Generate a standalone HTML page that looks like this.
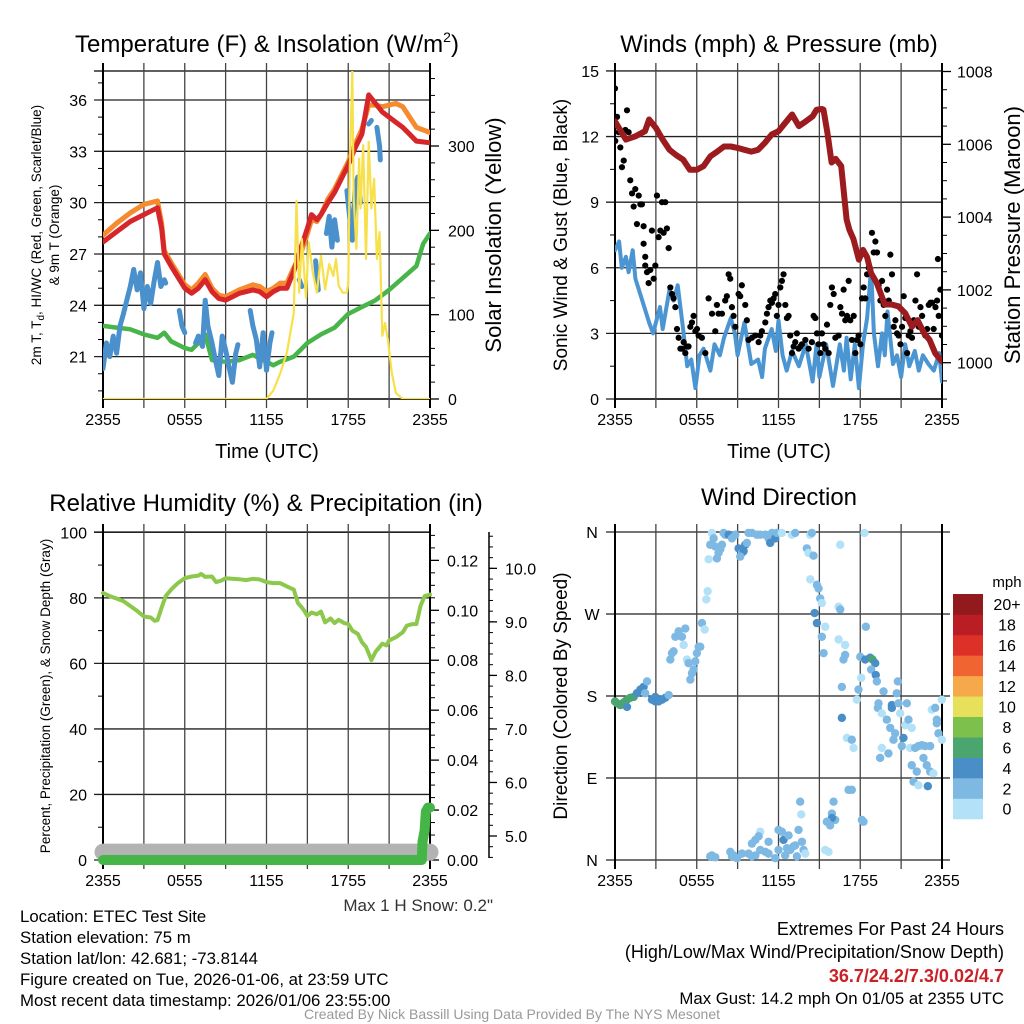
<!DOCTYPE html>
<html><head><meta charset="utf-8"><style>
html,body{margin:0;padding:0;background:#fff;}
svg{display:block;font-family:"Liberation Sans",Arial,sans-serif;}
</style></head><body>
<svg id="chart" width="1024" height="1024" viewBox="0 0 1024 1024"></svg>
<script>
// ---------- DATA ----------
// Panel 1: temperature
const tHours=[0,1,2,3,3.5,4,4.3,4.5,5,6,6.5,7,7.5,8,8.5,9,9.5,10,11,11.5,12,12.5,13,13.5,14,14.5,15,15.3,15.7,16,16.5,17,17.5,18,18.5,19,19.5,20,20.5,21,21.5,22,22.5,23,24];
const temp2m=[27.7,28.3,28.9,29.3,29.5,29.7,28.5,27.0,26.3,25.0,24.7,25.0,25.5,24.8,24.4,24.3,24.5,24.7,24.9,24.8,24.5,24.8,25.0,25.0,26.0,27.3,28.5,29.3,29.0,29.3,30.0,30.6,31.4,32.2,33.2,34.0,36.3,35.8,35.3,35.0,34.7,34.4,34.0,33.6,33.5];
const temp9m=[28.1,28.8,29.4,29.9,30.0,30.1,28.8,27.2,26.5,25.2,24.9,25.3,25.8,25.0,24.6,24.5,24.7,24.9,25.2,25.1,24.8,25.0,25.3,25.3,26.2,27.0,28.2,29.0,28.9,29.3,30.2,30.8,31.6,32.4,33.4,34.3,35.7,35.7,35.6,35.7,35.8,35.6,35.0,34.4,34.1];
const dewHours=[0,1,2,3,4,4.5,5,6,6.5,7,7.5,8,9,10,11,12,12.5,13,14,15,16,17,18,19,20,21,22,23,23.5,24];
const dewpoint=[22.8,22.7,22.6,22.3,22.1,22.4,21.9,21.5,21.4,21.8,22.3,20.8,20.7,20.8,21.1,20.7,20.5,20.7,21.0,21.8,22.3,22.7,23.5,23.9,24.3,24.9,25.6,26.3,27.6,28.2];
const wcHours=[0,0.25,0.5,0.75,1,1.25,1.5,1.75,2,2.25,2.5,2.75,3,3.25,3.5,3.75,4,4.25,4.5,4.6,4.61,5.6,5.8,6.0,6.01,6.8,7.0,7.3,7.5,7.7,8,8.25,8.5,8.75,9,9.25,9.5,9.75,9.9,9.91,10.8,11,11.25,11.5,11.75,12,12.25,12.4,12.41,14.4,14.6,14.61,15.6,15.8,15.81,16.4,16.6,16.8,17,17.2,17.21,17.9,18.1,18.3,18.5,18.7,18.9,18.91,19.5,19.7,19.71,20.1,20.3,20.35];
const windChill=[20.3,21.8,21.0,22.2,21.2,22.8,23.5,24.3,25.1,26.1,24.9,25.9,23.8,25.1,24.1,25.4,26.5,25.1,25.5,25.3,null,23.7,22.8,22.4,null,21.8,22.2,21.6,24.3,22.8,21.8,20.8,19.9,22.2,21.4,20.4,19.5,21.2,21.7,null,23.7,22.8,22.0,20.4,22.4,20.2,21.8,22.4,null,25.5,25.1,null,26.6,24.9,null,28.2,29.2,27.4,29.0,27.8,null,30.7,29.2,27.8,30.9,31.5,30.0,null,34.6,34.8,null,34.4,33.3,32.5];
const solarHours=[0,12,12.5,13,13.5,14,14.2,14.4,14.6,14.9,15.1,15.4,15.7,16,16.3,16.6,16.9,17.1,17.3,17.6,17.9,18,18.1,18.3,18.4,18.6,18.8,18.9,19.1,19.3,19.5,19.7,19.9,20.1,20.3,20.5,20.7,20.9,21.2,21.5,22,24];
const solar=[0,0,10,30,55,102,235,126,190,120,186,150,126,170,130,160,146,166,134,126,126,138,265,390,237,178,285,226,301,166,305,226,261,166,198,75,90,71,31,7,0,0];
const p1LeftTicks=[21,24,27,30,33,36];
const p1RightTicks=[0,100,200,300];
const timeTickLabels=["2355","0555","1155","1755","2355"];

// Panel 2: winds & pressure
const windHours=[0,0.3,0.5,0.8,1,1.3,1.5,2,2.5,2.8,3,3.3,3.5,4,4.3,4.6,5,5.3,5.6,5.9,6.2,6.5,7,7.3,7.7,8,8.5,8.8,9,9.5,10,10.5,10.8,11,11.5,11.8,12,12.3,12.6,13,13.5,14,14.5,14.8,15,15.5,16,16.5,16.8,17,17.3,17.6,17.9,18.2,18.5,18.8,19,19.3,19.6,19.8,20,20.4,20.7,21,21.3,21.6,22,22.3,22.6,23,23.4,23.8,24];
const windSpeed=[6.8,7.2,6.0,6.5,5.8,6.8,5.5,4.5,3.5,3.0,3.5,4.2,3.2,5.0,4.5,5.2,3.2,1.5,1.8,0.5,2.0,2.3,1.3,2.5,2.0,2.8,3.7,3.0,2.0,3.5,1.6,1.8,1.0,2.3,3.2,2.2,3.6,2.0,1.3,2.2,1.5,2.5,0.8,2.5,1.0,2.5,0.6,2.5,1.3,2.8,0.9,2.5,0.5,2.5,3.7,6.0,3.0,1.5,3.0,2.0,4.0,1.6,2.0,1.0,2.5,1.5,2.2,1.3,2.0,1.6,1.3,2.1,0.8];
const gustHours=[0,0.02,0.15,0.27,0.39,0.51,0.64,0.76,0.88,1.0,1.12,1.25,1.37,1.49,1.61,1.74,1.86,1.98,2.1,2.1,2.22,2.35,2.47,2.22,2.59,2.71,2.84,2.96,3.08,3.2,3.33,3.45,3.57,3.69,3.81,3.94,4.06,4.18,4.3,4.43,4.55,4.67,4.8,4.92,5.04,5.16,5.28,5.4,5.53,5.65,5.77,5.9,6.02,6.14,6.38,6.63,6.87,7.12,7.36,7.48,7.6,7.85,8.09,8.21,8.34,8.46,8.58,8.7,8.83,9.07,9.19,9.31,9.56,9.68,9.8,10.05,10.29,10.54,10.66,10.78,11.03,11.15,11.27,11.4,11.52,11.64,11.76,11.88,12.0,12.13,12.25,12.37,12.5,12.62,12.74,12.86,12.99,13.11,13.23,13.35,13.48,13.6,13.72,13.97,14.21,14.45,14.58,14.7,14.82,14.94,15.07,15.19,15.31,15.43,15.56,15.68,15.8,15.92,16.05,16.17,16.41,16.54,16.66,16.78,16.9,17.03,17.15,17.27,17.39,17.52,17.64,17.76,17.88,18.01,18.13,18.25,18.37,18.5,18.62,18.86,18.99,19.11,19.23,19.35,19.48,19.6,19.72,19.84,19.97,20.09,20.21,20.33,20.46,20.58,20.7,20.82,20.95,21.07,21.19,21.31,21.44,21.56,21.68,21.8,21.93,22.05,22.17,22.3,22.42,22.54,22.78,22.91,23.03,23.15,23.27,23.39,23.52,23.64,23.7,23.76,23.88,24.0];
const gustSpeed=[14.2,11.8,12.9,12.2,11.5,10.6,10.9,12.3,13.2,12.2,10.0,9.4,8.8,9.6,8.0,9.3,8.9,8.9,7.9,7.1,6.5,5.8,5.3,6.1,5.9,7.7,5.5,6.1,9.3,7.4,7.7,9.0,7.6,9.0,7.8,6.9,5.1,4.8,4.6,4.2,3.2,2.8,2.3,2.3,2.6,2.1,2.4,2.4,3.3,3.5,3.8,3.1,3.2,2.9,2.8,2.1,4.6,3.9,3.1,4.3,3.9,3.9,4.5,4.7,5.7,5.5,4.2,3.8,3.3,4.8,4.7,5.2,4.3,3.6,2.7,2.8,2.9,2.6,2.9,3.1,3.5,3.9,4.2,4.5,4.4,4.6,4.8,3.8,4.3,5.1,5.4,5.7,4.3,3.7,3.8,2.9,2.1,2.4,2.6,3.0,2.3,2.4,2.5,2.7,2.3,2.6,3.8,3.7,3.0,2.5,2.1,3.0,2.5,2.3,3.4,2.1,4.3,5.1,4.8,2.8,2.9,4.2,3.9,5.0,3.6,3.8,5.4,3.6,2.7,3.8,2.1,2.7,2.9,2.5,4.6,5.1,4.6,5.7,6.0,7.6,6.7,7.2,6.7,5.2,4.5,5.4,4.3,3.8,5.0,4.5,6.6,5.7,3.3,3.6,3.0,2.9,2.5,3.3,4.7,3.7,2.1,2.9,3.1,2.8,3.6,4.5,5.7,3.3,4.2,3.8,2.9,3.2,4.3,4.4,4.4,3.2,4.2,4.5,6.4,3.8,5.0,2.9];
const presHours=[0,0.8,1.5,2.2,2.5,3,3.5,4,4.5,5,5.5,6,6.5,7,7.5,8,8.5,9,9.5,10,10.5,11,11.5,12,12.5,13,13.5,14,14.5,14.8,15.2,15.3,15.6,15.9,16.2,16.6,17,17.2,17.5,17.9,18.2,18.5,18.8,19.2,19.5,19.8,20.3,20.8,21.3,21.8,22.2,22.7,23.1,23.5,24];
const pressure=[1006.63,1006.13,1006.22,1006.36,1006.68,1006.45,1006.13,1005.85,1005.7,1005.58,1005.3,1005.3,1005.4,1005.67,1005.8,1005.94,1005.94,1005.9,1005.85,1005.8,1005.85,1006.04,1006.27,1006.36,1006.59,1006.82,1006.5,1006.63,1006.77,1006.95,1006.97,1006.95,1006.3,1005.5,1005.6,1005.4,1003.93,1003.65,1003.4,1002.83,1003.1,1002.9,1002.46,1002.2,1001.9,1001.6,1001.6,1001.55,1001.36,1000.99,1001.17,1000.8,1000.62,1000.26,1000.03];
const p2LeftTicks=[0,3,6,9,12,15];
const p2RightTicks=[1000,1002,1004,1006,1008];

// Panel 3: RH, precip, snow
const rhHours=[0,0.5,1,1.5,2,2.5,3,3.5,3.8,4,4.3,4.6,5,5.5,6,6.5,7,7.2,7.5,8,8.3,8.7,9,9.5,10,10.5,11,11.5,12,12.5,13,13.5,14,14.3,14.7,15,15.3,15.7,16,16.3,16.7,17,17.3,17.7,18,18.3,18.7,19,19.3,19.5,19.7,20,20.5,20.8,21,21.5,22,22.3,22.7,23,23.3,23.6,24];
const relHum=[81.5,80.5,79.8,79,77.5,76,74.3,74,73,73.2,77,80.5,82.5,84.5,86,86.5,86.8,87.3,86.4,86.5,84.8,85.3,86,85.8,85.7,85.4,85.8,85.6,84.8,84.5,84.5,83.5,82.5,78.5,76.5,74.5,75.5,75,75.8,72.5,73.7,72.3,73.3,72.3,72,70,69,66.5,65,63,61,63.5,66,65.5,67,68,69.5,71.5,72,72,77.5,80.5,81];
const precipHours=[0,23.4,23.45,23.6,23.7,23.85,24];
const precip=[0,0,0.0073,0.0118,0.0195,0.021,0.021];
const snowHours=[0,24];
const snowDepth=[4.7,4.7];
const p3LeftTicks=[0,20,40,60,80,100];
const p3PrecipTicks=[0,0.02,0.04,0.06,0.08,0.10,0.12];
const p3SnowTicks=[5,6,7,8,9,10];

// Panel 4: wind direction
const dirHours=[0,0.15,0.39,0.64,0.88,1.12,1.37,0.88,1.61,1.86,2.1,2.35,2.22,2.71,2.96,3.2,3.45,3.69,3.94,2.96,4.06,4.18,4.3,4.43,4.67,4.91,5.04,5.16,5.28,5.4,5.53,5.65,5.77,5.89,6.01,6.14,6.26,6.38,6.58,6.7,6.8,6.87,6.99,7.11,7.24,7.36,7.48,7.6,7.73,7.85,7.97,8.09,8.34,8.58,8.83,9.07,9.32,9.44,9.56,9.68,9.19,9.8,10.05,10.42,10.66,11.03,11.27,11.39,11.52,11.76,11.88,12.25,12.98,13.23,14.08,14.2,14.33,14.45,14.57,14.33,14.82,14.94,15.06,15.18,14.65,14.82,15.43,15.18,15.31,16.41,16.53,16.53,18.31,16.41,16.89,16.89,16.77,18.0,18.36,18.73,18.9,19.1,18.8,19.14,19.22,18.41,18.07,17.87,17.75,16.65,16.65,17.02,17.38,17.51,19.34,19.29,19.58,19.71,19.95,20.2,20.32,20.32,20.44,20.56,20.68,20.76,20.81,20.93,21.05,21.17,21.3,21.42,21.54,21.78,21.66,19.46,19.58,20.07,22.03,22.27,22.52,22.76,23.13,22.64,22.88,23.13,23.37,21.78,22.15,21.91,22.27,22.96,23.25,23.5,23.62,23.74,23.99,23.99,23.62,17.14,17.38,16.04,15.92,16.16,15.92,15.55,15.79,15.43,15.67,18.12,18.24,13.59,13.67,13.47,13.72,13.84,13.96,12.0,12.25,12.37,12.74,12.62,12.86,13.1,13.23,12.49,11.76,12.0,10.66,10.54,10.3,10.05,11.27,11.03,10.66,10.3,10.05,9.8,9.32,8.95,8.71,8.46,8.58,7.11,7.36,6.99,13.35,11.27];
const dirDegrees=[174,172,170,173,176,178,179,168,183,187,190,196,183,176,174,174,176,178,181,179,220,227,229,245,251,245,236,254,220,216,198,205,209,218,227,234,234,260,253,286,295,330,346,359,353,344,331,337,341,346,359,357,357,353,357,342,337,339,346,348,333,359,359,357,357,357,353,348,359,353,359,359,357,359,342,337,357,359,334,308,302,298,287,282,271,260,256,245,227,278,275,346,359,242,236,225,220,223,220,222,220,216,209,203,196,256,200,187,176,190,156,134,132,123,172,167,161,185,154,145,170,167,132,139,183,196,172,161,125,134,148,172,154,145,123,112,123,117,123,125,126,125,125,112,104,97,95,104,97,86,82,81,165,167,154,139,132,176,150,77,77,64,51,44,46,42,38,11,9,44,42,64,50,33,20,11,7,33,31,22,27,13,11,15,16,5,2,11,31,26,22,18,20,9,11,5,4,7,7,2,5,9,4,5,3,4,4,7];
const dirSpeed=[7,7,7,7,7,7,7,5,5,5,5,3,3,5,5,5,5,5,3,5,3,3,3,3,3,3,1,3,1,3,3,3,3,3,3,3,3,3,1,1,1,1,3,1,3,3,3,3,3,3,3,3,5,3,3,5,3,5,5,3,3,3,3,3,3,3,3,5,3,5,3,1,1,3,3,1,1,3,3,1,3,3,3,1,5,5,1,3,3,1,3,1,1,1,1,3,3,3,5,5,7,5,3,5,3,3,1,3,1,3,5,1,3,1,3,3,1,3,3,3,5,5,3,3,3,3,3,1,3,5,1,3,3,1,1,3,1,3,3,3,3,3,3,3,3,3,1,3,3,3,1,5,1,3,3,3,1,1,3,3,3,3,3,3,5,3,3,1,1,3,3,3,1,3,3,3,1,3,3,5,3,3,3,3,3,3,3,3,1,3,3,3,3,3,3,3,3,3,3,3,3,3,3,3,3,3,3,3,3];
const dirTickLabels=["N","E","S","W","N"];
const speedBinLabels=["0","2","4","6","8","10","12","14","16","18","20+"];
const speedBinColors=["#b3e1f7","#7eb9e4","#4a8ec7","#4aa56f","#7dc04b","#e6e05a","#f6a94a","#ef6431","#dd3128","#ba1d24","#931a1c"];

// ---------- DRAWING ----------
const NS='http://www.w3.org/2000/svg';
const svg=document.getElementById('chart');
function mk(tag,attrs,parent){const e=document.createElementNS(NS,tag);for(const k in attrs)e.setAttribute(k,attrs[k]);(parent||svg).appendChild(e);return e;}
function txt(x,y,s,size,anchor,name,parent){
  const t=mk('text',{x:x,y:y,'font-size':size,'text-anchor':anchor,fill:'#000'},parent);
  t.textContent=s;
  
  
  return t;}
function pathD(hs,vs,xf,yf){let d='',pen=false;for(let i=0;i<hs.length;i++){if(vs[i]==null){pen=false;continue;}d+=(pen?'L':'M')+xf(hs[i]).toFixed(1)+' '+yf(vs[i]).toFixed(1);pen=true;}return d;}
function seg(x1,y1,x2,y2,w,c,parent){return mk('line',{x1:x1,y1:y1,x2:x2,y2:y2,stroke:c||'#000','stroke-width':w||1},parent);}

function makeClip(id,p){const cp=mk('clipPath',{id:id});mk('rect',{x:p.x0,y:p.y0,width:p.x1-p.x0,height:p.y1-p.y0},cp);}

function drawTimeGrid(p,g,name){
  for(let h=0;h<=24;h+=3){const x=p.x0+h/24*(p.x1-p.x0);
    const l=seg(x,p.y0-8,x,p.y1+9,(h==0||h==24)?2:1.3,(h==0||h==24)?'#000':'#444',g);
    
    }
  timeTickLabels.forEach((s,i)=>{txt(p.x0+i*6/24*(p.x1-p.x0),p.y1+26,s,16,'middle','x-tick-label',g);});
}

// Panel 1
(function(){
  const p={x0:103,x1:430,y0:71,y1:399};
  const g=mk('g',{});
  
  
  const xs=h=>p.x0+h/24*(p.x1-p.x0);
  const yL=v=>100+(36-v)*17.11;
  const yR=v=>399-v*0.8433;
  makeClip('c1',p);
  seg(p.x0-9,p.y0,p.x1,p.y0,1.3,'#000',g);
  p1LeftTicks.forEach(v=>{seg(p.x0-9,yL(v),p.x1,yL(v),1.3,'#222',g);txt(p.x0-16,yL(v)+6,String(v),16,'end','y-tick-label',g);});
  for(let v=19;v<=37;v++){if(v%3)seg(p.x0-5,yL(v),p.x0,yL(v),1,'#000',g);}
  seg(p.x0,p.y1,p.x1,p.y1,1.5,'#000',g);
  p1RightTicks.forEach(v=>{seg(p.x1,yR(v),p.x1+9,yR(v),1.3,'#000',g);txt(p.x1+18,yR(v)+6,String(v),16,'start','right-tick-label',g);});
  for(let v=20;v<=380;v+=20){if(v%100)seg(p.x1,yR(v),p.x1+5,yR(v),1,'#000',g);}
  drawTimeGrid(p,g,'temp');
  const dg=mk('g',{'clip-path':'url(#c1)',fill:'none','stroke-linejoin':'round','stroke-linecap':'round'},g);
  const s1=mk('path',{d:pathD(tHours,temp9m,xs,yL),stroke:'#f58a2e','stroke-width':5},dg);
  
  
  const s2=mk('path',{d:pathD(tHours,temp2m,xs,yL),stroke:'#d7262a','stroke-width':5},dg);
  
  
  const s3=mk('path',{d:pathD(dewHours,dewpoint,xs,yL),stroke:'#47b549','stroke-width':4.5},dg);
  
  
  const s4=mk('path',{d:pathD(wcHours,windChill,xs,yL),stroke:'#4a90cc','stroke-width':5},dg);
  
  
  const s5=mk('path',{d:pathD(solarHours,solar,xs,yR),stroke:'#f7e04a','stroke-width':2.2},dg);
  
  
  const t=txt(267,52,'Temperature (F) & Insolation (W/m',24,'middle','temperature-title',g);
  const sup=mk('tspan',{'font-size':14,dy:-10},t);sup.textContent='2';
  const cl=mk('tspan',{'font-size':24,dy:10},t);cl.textContent=')';
  txt(267,458,'Time (UTC)',20,'middle','x-axis-title',g);
  const yt=mk('text',{transform:'translate(41,235) rotate(-90)','font-size':13.5,'text-anchor':'middle'},g);
  
  
  yt.innerHTML='2m T, T<tspan font-size="10" dy="3">d</tspan><tspan dy="-3">, HI/WC (Red, Green, Scarlet/Blue)</tspan>';
  const yt2=txt(0,0,'& 9m T (Orange)',13.5,'middle','y-axis-title-line2',g);yt2.setAttribute('transform','translate(59,235) rotate(-90)');
  const rt=txt(0,0,'Solar Insolation (Yellow)',22,'middle','right-axis-title',g);rt.setAttribute('transform','translate(501,235) rotate(-90)');
})();

// Panel 2
(function(){
  const p={x0:615,x1:942,y0:71,y1:399};
  const g=mk('g',{});
  
  
  const xs=h=>p.x0+h/24*(p.x1-p.x0);
  const yL=v=>399-v*21.87;
  const yR=v=>362.7-(v-1000)*36.4;
  makeClip('c2',p);
  p2LeftTicks.forEach(v=>{seg(p.x0-9,yL(v),p.x1,yL(v),1.3,'#222',g);txt(p.x0-16,yL(v)+6,String(v),16,'end','y-tick-label',g);});
  for(let v=1.5;v<15;v+=3)seg(p.x0-5,yL(v),p.x0,yL(v),1,'#000',g);
  seg(p.x0,p.y1,p.x1,p.y1,1.5,'#000',g);
  p2RightTicks.forEach(v=>{seg(p.x1,yR(v),p.x1+9,yR(v),1.3,'#000',g);txt(p.x1+15,yR(v)+6,String(v),16,'start','right-tick-label',g);});
  for(let v=999;v<=1008;v+=0.5){if(v%2)seg(p.x1,yR(v),p.x1+5,yR(v),1,'#000',g);}
  drawTimeGrid(p,g,'winds');
  const dg=mk('g',{'clip-path':'url(#c2)','stroke-linejoin':'round','stroke-linecap':'round'},g);
  const w=mk('path',{d:pathD(windHours,windSpeed,xs,yL),stroke:'#4a95d2',fill:'none','stroke-width':4},dg);
  
  
  gustHours.forEach((h,i)=>{const c=mk('circle',{cx:xs(h),cy:yL(gustSpeed[i]),r:3.1,fill:'#000'},dg);
    
    });
  const pr=mk('path',{d:pathD(presHours,pressure,xs,yR),stroke:'#9b1b1e',fill:'none','stroke-width':6},dg);
  
  
  txt(779,52,'Winds (mph) & Pressure (mb)',24,'middle','winds-title',g);
  txt(779,458,'Time (UTC)',20,'middle','x-axis-title',g);
  const yt=txt(0,0,'Sonic Wind & Gust (Blue, Black)',19,'middle','y-axis-title',g);yt.setAttribute('transform','translate(567,235) rotate(-90)');
  const rt=txt(0,0,'Station Pressure (Maroon)',22,'middle','right-axis-title',g);rt.setAttribute('transform','translate(1020,235) rotate(-90)');
})();

// Panel 3
(function(){
  const p={x0:103,x1:430,y0:532,y1:860};
  const g=mk('g',{});
  
  
  const xs=h=>p.x0+h/24*(p.x1-p.x0);
  const yL=v=>860-v*3.277;
  const yP=v=>860-v*2497;
  const yS=v=>836-(v-5)*53.53;
  seg(p.x0-9,p.y0,p.x1,p.y0,1.3,'#000',g);
  p3LeftTicks.forEach(v=>{seg(p.x0-9,yL(v),p.x1,yL(v),1.3,'#222',g);txt(p.x0-16,yL(v)+6,String(v),16,'end','y-tick-label',g);});
  for(let v=10;v<100;v+=20)seg(p.x0-5,yL(v),p.x0,yL(v),1,'#000',g);
  p3PrecipTicks.forEach(v=>{seg(p.x1,yP(v),p.x1+9,yP(v),1.3,'#000',g);txt(p.x1+17,yP(v)+6,v.toFixed(2),16,'start','precip-tick-label',g);});
  for(let v=0.005;v<0.131;v+=0.005){if(Math.abs(v*50-Math.round(v*50))>0.01)seg(p.x1,yP(v),p.x1+5,yP(v),1,'#000',g);}
  seg(489,532,489,858,1.5,'#000',g);
  p3SnowTicks.forEach(v=>{seg(489,yS(v),497,yS(v),1.3,'#000',g);txt(505,yS(v)+6,v.toFixed(1),16,'start','snow-tick-label',g);});
  for(let v=4.6;v<10.7;v+=0.2){seg(489,yS(v),493,yS(v),1,'#000',g);}
  drawTimeGrid(p,g,'humidity');
  const dg=mk('g',{fill:'none','stroke-linejoin':'round','stroke-linecap':'round'},g);
  const sn=mk('path',{d:pathD(snowHours,snowDepth,xs,yS),stroke:'#b3b3b3','stroke-width':17},dg);
  
  
  const pc=mk('path',{d:pathD(precipHours,precip,xs,yP),stroke:'#45b548','stroke-width':10},dg);
  
  
  const rh=mk('path',{d:pathD(rhHours,relHum,xs,yL),stroke:'#8cc84b','stroke-width':4},dg);
  
  
  txt(266,511,'Relative Humidity (%) & Precipitation (in)',24,'middle','humidity-title',g);
  const yt=txt(0,0,'Percent, Precipitation (Green), & Snow Depth (Gray)',13.5,'middle','y-axis-title',g);yt.setAttribute('transform','translate(50,696) rotate(-90)');
  const ms=txt(493,911,'Max 1 H Snow: 0.2"',17,'end','max-snow-note',g);ms.setAttribute('fill','#333');
})();

// Panel 4
(function(){
  const p={x0:615,x1:942,y0:532,y1:860};
  const g=mk('g',{});
  
  
  const xs=h=>p.x0+h/24*(p.x1-p.x0);
  const yD=d=>860-d/360*328;
  dirTickLabels.forEach((s,i)=>{const y=yD(i*90);seg(p.x0-9,y,p.x1+8,y,1.3,'#222',g);txt(592,y+6,s,16,'middle','direction-tick-label',g);});
  drawTimeGrid(p,g,'direction');
  dirHours.forEach((h,i)=>{const bin=Math.min(10,Math.floor(dirSpeed[i]/2));
    const c=mk('circle',{cx:xs(h),cy:yD(dirDegrees[i]),r:4.2,fill:speedBinColors[bin]},g);
    
    });
  txt(779,505,'Wind Direction',24,'middle','wind-direction-title',g);
  const yt=txt(0,0,'Direction (Colored By Speed)',19,'middle','y-axis-title',g);yt.setAttribute('transform','translate(567,696) rotate(-90)');
  const cb=mk('g',{},g);
  
  
  const bh=20.45;
  speedBinColors.forEach((c,i)=>{const y=594+(10-i)*bh;
    const r=mk('rect',{x:953,y:y,width:30,height:bh+0.3,fill:c},cb);
    
    
    txt(1007,y+bh/2+6,speedBinLabels[i],16,'middle','colorbar-label',cb);});
  txt(1007,587,'mph',15,'middle','colorbar-unit',cb);
})();

// Footer
const info=["Location: ETEC Test Site","Station elevation: 75 m","Station lat/lon: 42.681; -73.8144","Figure created on Tue, 2026-01-06, at 23:59 UTC","Most recent data timestamp: 2026/01/06 23:55:00"];
info.forEach((s,i)=>{txt(20,922+i*21,s,16.8,'start','station-info-line');});
txt(1004,935,'Extremes For Past 24 Hours',18,'end','extremes-title');
txt(1004,958,'(High/Low/Max Wind/Precipitation/Snow Depth)',18,'end','extremes-subtitle');
const ex=txt(1004,982,'36.7/24.2/7.3/0.02/4.7',18,'end','extremes-values');ex.setAttribute('fill','#cc2027');ex.setAttribute('font-weight','bold');
txt(1004,1004,'Max Gust: 14.2 mph On 01/05 at 2355 UTC',16.8,'end','max-gust-note');
const cr=txt(512,1019,'Created By Nick Bassill Using Data Provided By The NYS Mesonet',14,'middle','credits');cr.setAttribute('fill','#999');
</script>
</body></html>
